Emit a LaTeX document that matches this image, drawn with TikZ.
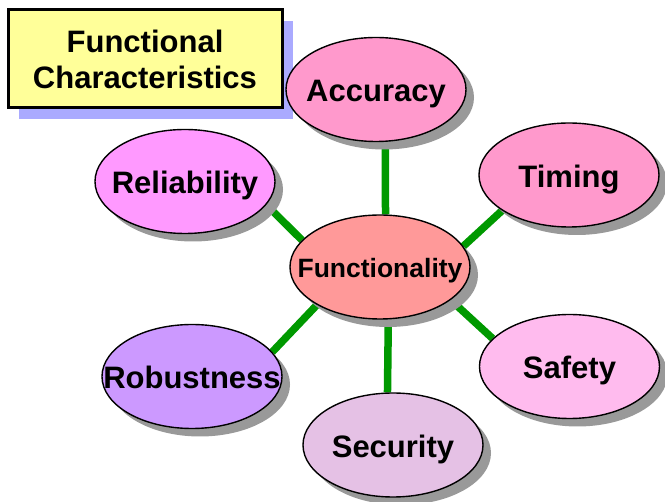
\documentclass[tikz,border=0pt]{standalone}
\usepackage{fontspec}
\setmainfont{Liberation Sans}
\usetikzlibrary{shapes.geometric,shadows}
\definecolor{titleyellow}{HTML}{FFFF99}
\definecolor{titleshadow}{HTML}{AAAAFF}
\definecolor{shadowgray}{HTML}{999999}
\definecolor{linkgreen}{HTML}{009900}
\definecolor{pinkA}{HTML}{FF99CC}
\definecolor{magentaA}{HTML}{FF99FF}
\definecolor{salmonA}{HTML}{FF9999}
\definecolor{violetA}{HTML}{CC99FF}
\definecolor{mauveA}{HTML}{E5C1E5}
\definecolor{rosyA}{HTML}{FFBBEE}
\pgfdeclarelayer{links}
\pgfsetlayers{links,main}
% label text that does not widen its ellipse
\newcommand\flatlabel[1]{\makebox[0pt][c]{#1}}
\begin{document}
\begin{tikzpicture}[x=1pt,y=-1pt,
  bubble/.style={ellipse, draw=black, line width=1.4pt,
    minimum width=180pt, minimum height=104pt, inner sep=0pt,
    font=\fontsize{31}{35}\selectfont\bfseries,
    text height=24.8pt, text depth=0pt,
    drop shadow={shadow xshift=8pt, shadow yshift=-8pt, fill=shadowgray, opacity=1}},
  link/.style={draw=linkgreen, line width=7.5pt},
  titlebox/.style={rectangle, draw=black, line width=3pt, fill=titleyellow,
    minimum width=274pt, minimum height=98pt, inner sep=0pt, align=center,
    font=\fontsize{31}{36}\selectfont\bfseries,
    drop shadow={shadow xshift=11pt, shadow yshift=-11pt, fill=titleshadow, opacity=1}}]
\useasboundingbox (0,0) rectangle (665,502);

% title
\node[titlebox] (title) at (145,59) {Functional\\Characteristics};

% shadow of the overflowing label
\node[font=\fontsize{31}{35}\selectfont\bfseries, text=shadowgray, inner sep=0pt,
  text height=24.8pt, text depth=0pt] (robshade) at (198,384.5) {Robustness};

% the characteristics
\node[bubble, fill=pinkA]    (acc)  at (376,89.5)  {\flatlabel{Accuracy}};
\node[bubble, fill=pinkA]    (tim)  at (569,175)   {\flatlabel{Timing}};
\node[bubble, fill=magentaA] (rel)  at (185,181.5) {\flatlabel{Reliability}};
\node[bubble, fill=rosyA]    (saf)  at (569.5,366.5) {\flatlabel{Safety}};
\node[bubble, fill=mauveA]   (sec)  at (393,445)   {\flatlabel{Security}};
\node[bubble, fill=violetA]  (rob)  at (192,376.5) {\flatlabel{Robustness}};
\node[bubble, fill=salmonA, font=\fontsize{26.5}{30}\selectfont\bfseries,
  text height=22pt] (func) at (380,267) {\flatlabel{Functionality}};

% green links, kept below the bubbles
\begin{pgfonlayer}{links}
\draw[link] (acc.-80)  -- (func.84);
\draw[link] (func.-81) -- (sec.96);
\draw[link] (rel.-16)  -- (func.161);
\draw[link] (tim.208)  -- (func.14);
\draw[link] (func.-25) -- (saf.160);
\draw[link] (func.211) -- (rob.17);
\end{pgfonlayer}
\end{tikzpicture}
\end{document}
